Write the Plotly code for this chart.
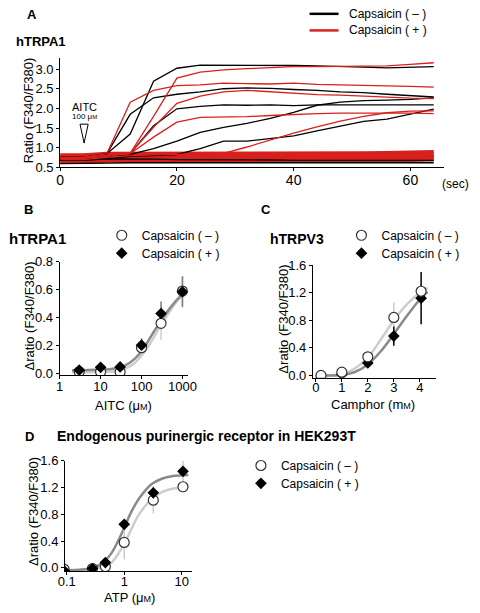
import plotly.graph_objects as go

# ---------------- Panel A data (time course, sampled every 4 s) ----------------
time_s = [0, 4, 8, 12, 16, 20, 24, 28, 32, 36, 40, 44, 48, 52, 56, 60, 64]
aitc_time = 4.1

black_traces = [
    [0.76, 0.76, 0.85, 1.35, 2.69, 3.02, 3.10, 3.10, 3.10, 3.10, 3.09, 3.08, 3.07, 3.05, 3.03, 3.04, 3.06],
    [0.72, 0.72, 0.85, 1.85, 2.27, 2.36, 2.42, 2.50, 2.52, 2.51, 2.48, 2.46, 2.42, 2.40, 2.36, 2.33, 2.29],
    [0.70, 0.70, 0.78, 0.85, 1.56, 1.99, 2.05, 2.09, 2.08, 2.09, 2.07, 2.09, 2.09, 2.09, 2.09, 2.09, 2.09],
    [0.68, 0.68, 0.76, 0.83, 0.98, 1.17, 1.39, 1.52, 1.62, 1.75, 1.90, 2.08, 2.16, 2.20, 2.21, 2.23, 2.27],
    [0.68, 0.68, 0.72, 0.78, 0.80, 0.83, 0.98, 1.17, 1.17, 1.23, 1.30, 1.43, 1.55, 1.67, 1.73, 1.85, 1.98],
    [0.70, 0.70, 0.72, 0.72, 0.71, 0.70, 0.70, 0.70, 0.69, 0.69, 0.68, 0.68, 0.69, 0.69, 0.69, 0.68, 0.68],
]
black_baseline = [0.60, 0.60, 0.61, 0.62, 0.62, 0.63, 0.63, 0.63, 0.63, 0.63, 0.62, 0.62, 0.62, 0.62, 0.62, 0.62, 0.62]

red_traces = [
    [0.75, 0.76, 0.85, 2.16, 2.46, 2.58, 2.60, 2.64, 2.63, 2.62, 2.64, 2.61, 2.60, 2.59, 2.58, 2.56, 2.54],
    [0.74, 0.75, 0.80, 0.86, 1.80, 2.77, 2.92, 2.98, 3.01, 3.04, 3.06, 3.06, 3.07, 3.07, 3.08, 3.12, 3.16],
    [0.73, 0.74, 0.80, 0.86, 1.52, 2.13, 2.31, 2.42, 2.46, 2.42, 2.38, 2.35, 2.34, 2.31, 2.28, 2.26, 2.25],
    [0.72, 0.73, 0.79, 0.85, 1.27, 1.65, 1.77, 1.78, 1.79, 1.82, 1.85, 1.87, 1.88, 1.88, 1.89, 1.88, 1.87],
    [0.70, 0.70, 0.76, 0.80, 0.82, 0.83, 0.84, 0.86, 1.02, 1.20, 1.37, 1.53, 1.68, 1.80, 1.89, 1.93, 1.94],
]
red_band = [
    [0.82, 0.82, 0.86, 0.86, 0.85, 0.85, 0.85, 0.86, 0.86, 0.86, 0.85, 0.85, 0.86, 0.87, 0.88, 0.89, 0.90],
    [0.78, 0.78, 0.82, 0.83, 0.82, 0.82, 0.82, 0.83, 0.83, 0.82, 0.82, 0.82, 0.83, 0.83, 0.84, 0.84, 0.85],
    [0.74, 0.74, 0.78, 0.79, 0.78, 0.78, 0.78, 0.79, 0.79, 0.78, 0.78, 0.78, 0.79, 0.80, 0.80, 0.80, 0.80],
    [0.70, 0.70, 0.74, 0.75, 0.75, 0.74, 0.74, 0.75, 0.75, 0.75, 0.74, 0.74, 0.75, 0.76, 0.76, 0.76, 0.77],
    [0.66, 0.66, 0.70, 0.71, 0.71, 0.70, 0.70, 0.71, 0.71, 0.71, 0.70, 0.70, 0.71, 0.72, 0.72, 0.72, 0.73],
    [0.63, 0.63, 0.66, 0.67, 0.67, 0.66, 0.66, 0.67, 0.67, 0.67, 0.66, 0.66, 0.67, 0.68, 0.68, 0.68, 0.69],
]

# ---------------- Panel B data (AITC dose response) ----------------
b_conc = [3, 10, 30, 100, 300, 1000]
b_minus = [0.014, 0.014, 0.012, 0.186, 0.36, 0.59]
b_minus_err = [0, 0, 0, 0.02, 0.12, 0.10]
b_plus = [0.026, 0.046, 0.049, 0.204, 0.43, 0.585]
b_plus_err = [0, 0, 0, 0.05, 0.085, 0.11]
b_fit_x = [2, 5, 10, 20, 40, 70, 100, 150, 200, 300, 500, 800, 1300]
b_fit_plus = [0.025, 0.027, 0.03, 0.036, 0.06, 0.11, 0.16, 0.24, 0.30, 0.38, 0.47, 0.54, 0.59]
b_fit_minus = [0.01, 0.01, 0.012, 0.017, 0.035, 0.08, 0.13, 0.20, 0.26, 0.35, 0.45, 0.53, 0.59]

# ---------------- Panel C data (camphor dose response) ----------------
c_conc = [0.2, 1, 2, 3, 4.05]
c_minus = [0.0, 0.047, 0.27, 0.84, 1.22]
c_minus_err = [0, 0, 0.02, 0.22, 0.10]
c_plus = [-0.04, 0.015, 0.18, 0.57, 1.12]
c_plus_err = [0, 0, 0.03, 0.14, 0.38]
c_fit_x = [0, 0.5, 1, 1.5, 2, 2.5, 3, 3.5, 4, 4.3]
c_fit_minus = [0, 0, 0.02, 0.10, 0.26, 0.52, 0.80, 1.03, 1.20, 1.27]
c_fit_plus = [0, 0, 0.005, 0.05, 0.16, 0.35, 0.60, 0.86, 1.10, 1.21]

# ---------------- Panel D data (ATP dose response) ----------------
d_conc = [0.09, 0.28, 0.47, 1, 3.2, 10.5]
d_minus = [-0.02, -0.01, 0.02, 0.38, 1.01, 1.21]
d_minus_err = [0, 0, 0.02, 0.25, 0.20, 0.05]
d_plus = [-0.04, -0.01, 0.08, 0.65, 1.12, 1.44]
d_plus_err = [0, 0, 0.03, 0.05, 0.10, 0.16]
d_fit_x = [0.09, 0.15, 0.25, 0.4, 0.6, 0.8, 1, 1.3, 1.7, 2.2, 3, 4.5, 7, 10, 13]
d_fit_plus = [-0.035, -0.03, -0.01, 0.06, 0.22, 0.42, 0.60, 0.82, 1.00, 1.13, 1.25, 1.33, 1.37, 1.38, 1.385]
d_fit_minus = [-0.03, -0.03, -0.02, 0.01, 0.08, 0.22, 0.36, 0.56, 0.76, 0.90, 1.03, 1.13, 1.18, 1.20, 1.205]

legend_names = ["Capsaicin ( – )", "Capsaicin ( + )"]

# ---------------- styling ----------------
FONT = "Liberation Sans, Arial, sans-serif"
RED = "#d8201c"
DARK = "#8a8a8a"
LIGHT = "#cdcdcd"
W, H = 480, 613


def px_x(p):
    return p / W


def px_y(p):
    return 1 - p / H


fig = go.Figure()

# Panel A traces
for tr in red_band:
    fig.add_trace(go.Scatter(x=time_s, y=tr, mode="lines", line=dict(color=RED, width=3.2),
                             showlegend=False, xaxis="x", yaxis="y"))
for tr in black_traces:
    fig.add_trace(go.Scatter(x=time_s, y=tr, mode="lines", line=dict(color="black", width=1.3),
                             showlegend=False, xaxis="x", yaxis="y"))
for tr in red_traces:
    fig.add_trace(go.Scatter(x=time_s, y=tr, mode="lines", line=dict(color=RED, width=1.3),
                             showlegend=False, xaxis="x", yaxis="y"))
fig.add_trace(go.Scatter(x=time_s, y=black_baseline, mode="lines", line=dict(color="black", width=1.3),
                         showlegend=False, xaxis="x", yaxis="y"))


def dose_panel(xa, ya, lg_m, lg_p, conc, mvals, merr, pvals, perr, fx, fminus, fplus, pbar_color, circles_on_top):
    fig.add_trace(go.Scatter(x=fx, y=fminus, mode="lines", line=dict(color=LIGHT, width=2.5, shape="spline"),
                             showlegend=False, xaxis=xa, yaxis=ya))
    fig.add_trace(go.Scatter(x=fx, y=fplus, mode="lines", line=dict(color=DARK, width=2.5, shape="spline"),
                             showlegend=False, xaxis=xa, yaxis=ya))
    # error bars
    fig.add_trace(go.Scatter(x=conc, y=mvals, mode="markers", marker=dict(opacity=0, size=2),
                             error_y=dict(type="data", array=merr, color=LIGHT, thickness=1.5, width=0),
                             showlegend=False, xaxis=xa, yaxis=ya))
    fig.add_trace(go.Scatter(x=conc, y=pvals, mode="markers", marker=dict(opacity=0, size=2),
                             error_y=dict(type="data", array=perr, color=pbar_color, thickness=1.5, width=0),
                             showlegend=False, xaxis=xa, yaxis=ya))
    circ = go.Scatter(x=conc, y=mvals, mode="markers",
                      marker=dict(symbol="circle", size=10, color="white", line=dict(color="#333", width=1.2)),
                      showlegend=False, xaxis=xa, yaxis=ya)
    diam = go.Scatter(x=conc, y=pvals, mode="markers",
                      marker=dict(symbol="diamond", size=9, color="black", line=dict(width=0)),
                      showlegend=False, xaxis=xa, yaxis=ya)
    if circles_on_top:
        fig.add_trace(diam)
        fig.add_trace(circ)
    else:
        fig.add_trace(circ)
        fig.add_trace(diam)
    fig.add_trace(go.Scatter(x=[None], y=[None], mode="markers",
                             marker=dict(symbol="circle", size=10, color="white", line=dict(color="#333", width=1.2)),
                             name=legend_names[0], legend=lg_m, xaxis=xa, yaxis=ya))
    fig.add_trace(go.Scatter(x=[None], y=[None], mode="markers",
                             marker=dict(symbol="diamond", size=9, color="black"),
                             name=legend_names[1], legend=lg_p, xaxis=xa, yaxis=ya))


dose_panel("x2", "y2", "legend2", "legend5", b_conc, b_minus, b_minus_err, b_plus, b_plus_err,
           b_fit_x, b_fit_minus, b_fit_plus, "#7a7a7a", False)
dose_panel("x3", "y3", "legend3", "legend6", c_conc, c_minus, c_minus_err, c_plus, c_plus_err,
           c_fit_x, c_fit_minus, c_fit_plus, "black", True)
dose_panel("x4", "y4", "legend4", "legend7", d_conc, d_minus, d_minus_err, d_plus, d_plus_err,
           d_fit_x, d_fit_minus, d_fit_plus, LIGHT, False)

axis_common = dict(showgrid=False, zeroline=False, showline=True, linecolor="black", linewidth=1,
                   ticks="outside", ticklen=3, tickcolor="black", tickwidth=1,
                   tickfont=dict(family=FONT, size=13, color="black"))


def leg(x, y):
    return dict(x=px_x(x), y=px_y(y), xanchor="left", yanchor="middle", bgcolor="rgba(0,0,0,0)",
                font=dict(family=FONT, size=12, color="black"), itemwidth=30)


fig.update_layout(
    width=W, height=613, autosize=False,
    margin=dict(l=0, r=0, t=0, b=0),
    paper_bgcolor="white", plot_bgcolor="white",
    font=dict(family=FONT, color="black", size=12),
    xaxis=dict(axis_common, domain=[px_x(55), px_x(451.7)], range=[0, 65.7], anchor="y",
               tickvals=[0, 20, 40, 60], tickfont=dict(family=FONT, size=14, color="black"),
               ticklabelstandoff=-3),
    yaxis=dict(axis_common, domain=[px_y(164.5), px_y(52.7)], range=[0.5, 3.27], anchor="x",
               tickvals=[0.5, 1.0, 1.5, 2.0, 2.5, 3.0], tickformat=".1f"),
    xaxis2=dict(axis_common, type="log", domain=[px_x(54.5), px_x(187)], range=[0, 3.13], anchor="y2",
                tickvals=[1, 10, 100, 1000], ticktext=["1", "10", "100", "1000"], ticklabelstandoff=-4),
    yaxis2=dict(axis_common, domain=[px_y(377.7), px_y(261)], range=[-0.012, 0.8], anchor="x2",
                tickvals=[0, 0.2, 0.4, 0.6, 0.8], tickformat=".1f"),
    xaxis3=dict(axis_common, domain=[px_x(316.5), px_x(444)], range=[-0.11, 4.63], anchor="y3",
                tickvals=[0, 1, 2, 3, 4], ticklabelstandoff=-5),
    yaxis3=dict(axis_common, domain=[px_y(380), px_y(264.5)], range=[-0.033, 1.6], anchor="x3",
                tickvals=[0, 0.4, 0.8, 1.2, 1.6], tickformat=".1f"),
    xaxis4=dict(axis_common, type="log", domain=[px_x(60), px_x(191.5)], range=[-1.03, 1.18], anchor="y4",
                tickvals=[0.1, 1, 10], ticktext=["0.1", "1", "10"], ticklabelstandoff=-5),
    yaxis4=dict(axis_common, domain=[px_y(578.4), px_y(465)], range=[-0.05, 1.6], anchor="x4",
                tickvals=[0, 0.4, 0.8, 1.2, 1.6], tickformat=".1f"),
    legend2=leg(98, 234), legend5=leg(98, 252.3),
    legend3=leg(346, 234), legend6=leg(346, 252.3),
    legend4=leg(242, 470), legend7=leg(242, 488.3),
)

ann = []


def label(text, x, y, size=12, bold=False, xanchor="center", angle=0):
    t = f"<b>{text}</b>" if bold else text
    ann.append(dict(text=t, x=px_x(x), y=px_y(y), xref="paper", yref="paper", showarrow=False,
                    xanchor=xanchor, yanchor="middle", textangle=angle,
                    font=dict(family=FONT, size=size, color="black")))


SMALLM = "<span style='font-size:9px'>M</span>"
label("A", 26, 8, 13, True)
label("hTRPA1", 7, 35, 13, True, "left")
label("AITC", 80, 102, 11)
label("100 μ" + "<span style='font-size:6px'>M</span>", 80, 112, 8)
label("(sec)", 480, 181, 12, xanchor="right")
label("Ratio (F340/F380)", 22.5, 106, 13, angle=-90)
# legend of panel A (key lines drawn as shapes below)
label(legend_names[0], 352, 7, 12, xanchor="left")
label(legend_names[1], 352, 24, 12, xanchor="left")

label("B", 22, 208, 13, True)
label("hTRPA1", 0, 237, 15, True, "left")
label("Δratio (F340/F380)", 23, 317, 13, angle=-90)
label("AITC (μ" + SMALLM + ")", 120, 409, 13)

label("C", 268, 208, 13, True)
label("hTRPV3", 270, 238, 14, True, "left")
label("Δratio (F340/F380)", 286, 320, 13, angle=-90)
label("Camphor (m" + SMALLM + ")", 379, 407, 13)

label("D", 23, 440, 13, True)
label("Endogenous purinergic receptor in HEK293T", 50, 440, 14, True, "left")
label("Δratio (F340/F380)", 27.5, 517, 13, angle=-90)
label("ATP (μ" + SMALLM + ")", 127, 605, 13)

fig.update_layout(annotations=ann)

# legend keys of panel A
for yk, col in [(7, "black"), (24, RED)]:
    fig.add_shape(type="line", xref="paper", yref="paper", x0=px_x(313), x1=px_x(343),
                  y0=px_y(yk), y1=px_y(yk), line=dict(color=col, width=2.5))

# AITC application marker (open triangle) placed at the stimulus time
fig.add_shape(type="path", xref="x", yref="y",
              path=f"M {aitc_time - 0.7} 1.60 L {aitc_time + 0.7} 1.60 L {aitc_time} 1.12 Z",
              line=dict(color="black", width=1), fillcolor="white")

fig.write_html("out.html", config={"displayModeBar": False},
               post_script="document.body.style.margin='0';document.body.style.padding='0';"
                           "document.documentElement.style.overflow='hidden';")
